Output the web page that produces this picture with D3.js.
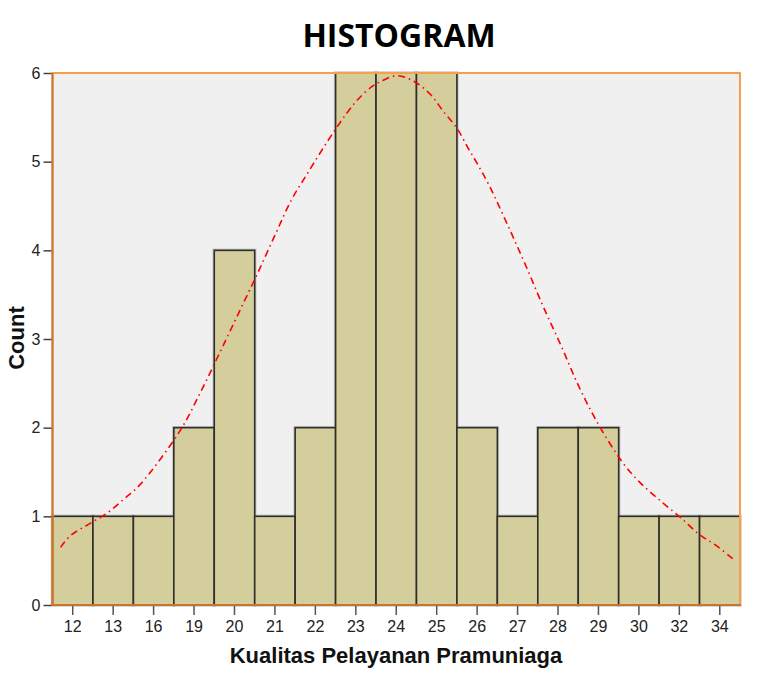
<!DOCTYPE html>
<html>
<head>
<meta charset="utf-8">
<script src="https://cdn.jsdelivr.net/npm/d3@7/dist/d3.min.js"></script>
<style>
  body { margin: 0; background: #ffffff; }
  svg { display: block; }
</style>
</head>
<body>
<svg id="chart" width="757" height="679"></svg>
<script>
// Categories (x-axis tick labels) and bar counts
const categories = ["12","13","16","19","20","21","22","23","24","25","26","27","28","29","30","32","34"];
const counts     = [1, 1, 1, 2, 4, 1, 2, 6, 6, 6, 2, 1, 2, 2, 1, 1, 1];
const yTicks     = [0, 1, 2, 3, 4, 5, 6];

// Normal curve: position in bar units (0 = left edge of plot), count
const curveU = [0.20, 0.44, 0.89, 1.36, 1.78, 2.17, 3.16, 3.66, 4.13, 4.60, 5.07, 5.53, 5.91, 6.28, 6.99, 7.49, 7.88, 8.10, 8.50, 8.92, 9.34, 9.66, 10.01, 10.28, 10.50, 10.80, 11.27, 11.71, 12.13, 12.58, 13.02, 13.52, 14.11, 14.53, 15.02, 15.52, 16.01, 16.38, 16.83];
const curveV = [0.65, 0.78, 0.91, 1.04, 1.20, 1.36, 1.97, 2.40, 2.84, 3.29, 3.74, 4.20, 4.57, 4.85, 5.36, 5.67, 5.84, 5.90, 5.97, 5.91, 5.76, 5.57, 5.37, 5.15, 4.98, 4.73, 4.27, 3.82, 3.37, 2.92, 2.46, 2.02, 1.60, 1.38, 1.18, 0.99, 0.79, 0.68, 0.52];

const titleText = "HISTOGRAM";
const xTitle = "Kualitas Pelayanan Pramuniaga";
const yTitle = "Count";

const svg = d3.select("#chart");
const L = 52.5, R = 740, T = 73, B = 605;

const x = d3.scaleBand().domain(categories).range([L, R]).padding(0);
const xLin = d3.scaleLinear().domain([0, categories.length]).range([L, R]);
const y = d3.scaleLinear().domain([0, 6]).range([B, T]);

// plot background
svg.append("rect").attr("x", L).attr("y", T).attr("width", R - L).attr("height", B - T)
  .attr("fill", "#f0f0f0");

// bar shadows
svg.append("g").selectAll("rect").data(counts).join("rect")
  .attr("x", (d, i) => x(categories[i]))
  .attr("y", d => y(d))
  .attr("width", x.bandwidth())
  .attr("height", d => B - y(d))
  .attr("fill", "none")
  .attr("stroke", "#9a9a9a")
  .attr("stroke-opacity", 0.5)
  .attr("stroke-width", 3.5);

// bars
svg.append("g").selectAll("rect").data(counts).join("rect")
  .attr("x", (d, i) => x(categories[i]))
  .attr("y", d => y(d))
  .attr("width", x.bandwidth())
  .attr("height", d => B - y(d))
  .attr("fill", "#d3ce9b")
  .attr("stroke", "#2e2e2a")
  .attr("stroke-width", 1.6);

// frame (orange)
svg.append("rect").attr("x", L).attr("y", T).attr("width", R - L).attr("height", B - T)
  .attr("fill", "none").attr("stroke", "#f6a04c").attr("stroke-width", 2);
// left & bottom axis lines (darker orange-brown)
svg.append("line").attr("x1", L).attr("x2", L).attr("y1", T).attr("y2", B + 1)
  .attr("stroke", "#c8762e").attr("stroke-width", 2);
svg.append("line").attr("x1", L).attr("x2", R + 1).attr("y1", B).attr("y2", B)
  .attr("stroke", "#c8762e").attr("stroke-width", 2);

// normal curve
const line = d3.line()
  .x(d => xLin(d[0]))
  .y(d => y(d[1]))
  .curve(d3.curveCatmullRom.alpha(0.5));
svg.append("path")
  .datum(curveU.map((u, i) => [u, curveV[i]]))
  .attr("d", line)
  .attr("fill", "none")
  .attr("stroke", "#ff0000")
  .attr("stroke-width", 1.6)
  .attr("stroke-dasharray", "7,4,1.5,4");

// y axis
const yAxis = d3.axisLeft(y).tickValues(yTicks).tickSize(8).tickPadding(3).tickFormat(d3.format("d"));
const gy = svg.append("g").attr("transform", `translate(${L - 1},0)`).call(yAxis);
gy.select(".domain").remove();
gy.selectAll(".tick line").attr("stroke", "#444").attr("stroke-width", 1.5);
gy.selectAll(".tick text").attr("font-family", "'Liberation Sans', Arial, sans-serif")
  .attr("font-size", 16).attr("fill", "#222");

// x axis
const xAxis = d3.axisBottom(x).tickSize(9).tickPadding(6);
const gx = svg.append("g").attr("transform", `translate(0,${B + 1})`).call(xAxis);
gx.select(".domain").remove();
gx.selectAll(".tick line").attr("stroke", "#555").attr("stroke-width", 1.5);
gx.selectAll(".tick text").attr("font-family", "'Liberation Sans', Arial, sans-serif")
  .attr("font-size", 16).attr("fill", "#222");

// titles
svg.append("text").attr("x", 399).attr("y", 47).attr("text-anchor", "middle")
  .attr("font-family", "'Open Sans', sans-serif").attr("font-weight", "bold")
  .attr("font-size", 32).attr("fill", "#000").text(titleText);

svg.append("text").attr("x", 396).attr("y", 663).attr("text-anchor", "middle")
  .attr("font-family", "'Liberation Sans', Arial, sans-serif").attr("font-weight", "bold")
  .attr("font-size", 22).attr("fill", "#111").text(xTitle);

svg.append("text").attr("transform", "translate(24,338) rotate(-90)").attr("text-anchor", "middle")
  .attr("font-family", "'Liberation Sans', Arial, sans-serif").attr("font-weight", "bold")
  .attr("font-size", 22).attr("fill", "#111").text(yTitle);
</script>
</body>
</html>
